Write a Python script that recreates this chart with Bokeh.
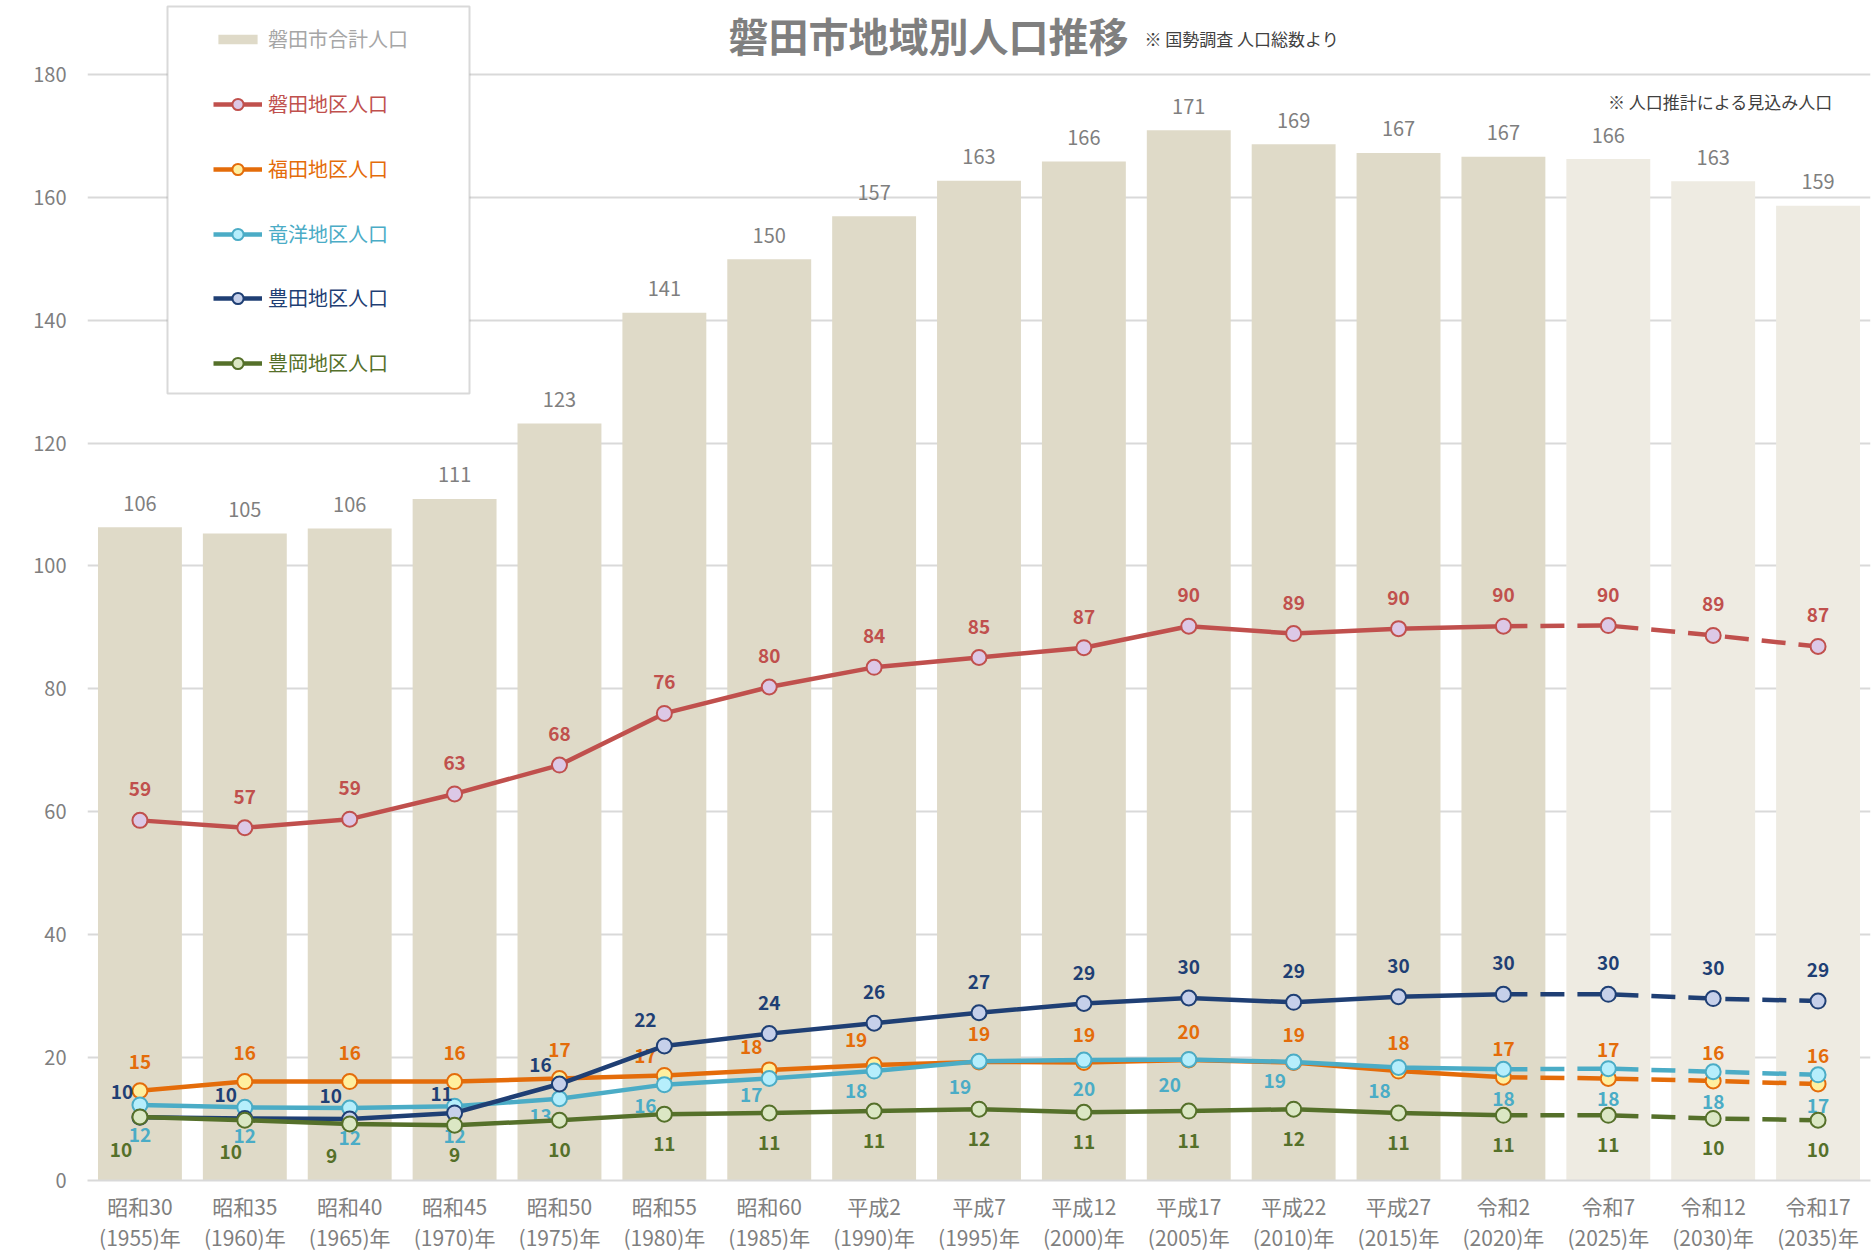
from bokeh.plotting import figure
from bokeh.models import (ColumnDataSource, FactorRange, Range1d, FixedTicker,
                          Legend, LegendItem, BoxAnnotation, Label)
from bokeh.core.properties import value
from bokeh.embed import file_html
from bokeh.resources import INLINE

# ---------------- data (thousand persons) ----------------
years = ["1955", "1960", "1965", "1970", "1975", "1980", "1985", "1990", "1995",
         "2000", "2005", "2010", "2015", "2020", "2025", "2030", "2035"]
era_labels = ["昭和30", "昭和35", "昭和40", "昭和45", "昭和50", "昭和55", "昭和60",
              "平成2", "平成7", "平成12", "平成17", "平成22", "平成27", "令和2",
              "令和7", "令和12", "令和17"]
categories = [f"{e}\n({y})年" for e, y in zip(era_labels, years)]
projected = [False] * 14 + [True] * 3

total = [106.3, 105.3, 106.1, 110.9, 123.2, 141.2, 149.9, 156.9, 162.7, 165.8,
         170.9, 168.6, 167.2, 166.6, 166.2, 162.6, 158.6]
iwata = [58.6, 57.4, 58.8, 62.9, 67.6, 76.0, 80.3, 83.5, 85.1, 86.7,
         90.2, 89.0, 89.8, 90.2, 90.3, 88.7, 86.9]
fukude = [14.6, 16.1, 16.1, 16.1, 16.6, 17.1, 18.0, 18.8, 19.3, 19.2,
          19.6, 19.2, 17.8, 16.8, 16.6, 16.2, 15.7]
ryuyo = [12.3, 11.9, 11.8, 12.1, 13.3, 15.6, 16.6, 17.8, 19.4, 19.6,
         19.7, 19.3, 18.4, 18.1, 18.2, 17.7, 17.2]
toyoda = [10.3, 10.1, 10.0, 11.0, 15.7, 21.9, 23.9, 25.6, 27.3, 28.8,
          29.7, 29.0, 29.9, 30.3, 30.3, 29.6, 29.2]
toyooka = [10.35, 9.8, 9.2, 9.0, 9.8, 10.8, 11.0, 11.3, 11.6, 11.1,
           11.3, 11.6, 11.0, 10.6, 10.6, 10.1, 9.8]

y_ticks = [0, 20, 40, 60, 80, 100, 120, 140, 160, 180]
LAST_ACTUAL = 13  # index of 2020, dashed afterwards

# ---------------- styles ----------------
FONT = "Noto Sans CJK JP"
GRAY = "#7f7f7f"
BAR_ACTUAL = "#dfdac8"
BAR_PROJ = "#eeebe2"

series = [
    # name, data, line color, marker fill, label dx list, label dy list
    ("磐田地区人口", iwata, "#c0504d", "#dcc8e6",
     [0] * 17, [-31] * 17),
    ("福田地区人口", fukude, "#e46c0a", "#ffef9f",
     [0, 0, 0, 0, 0, -19, -18, -18] + [0] * 9,
     [-29, -29, -29, -29, -28, -19, -23, -25] + [-28] * 9),
    ("竜洋地区人口", ryuyo, "#4bacc6", "#b6eefc",
     [0, 0, 0, 0, -19, -19, -18, -18, -19, 0, -19, -19, -19, 0, 0, 0, 0],
     [30, 29, 30, 30, 17, 21, 17, 20, 26, 29, 26, 19, 24, 30, 30, 30, 31]),
    ("豊田地区人口", toyoda, "#1f3f74", "#c6d0ea",
     [-18, -19, -19, -13, -19, -19] + [0] * 11,
     [-25, -23, -23, -19, -19, -26] + [-31] * 11),
    ("豊岡地区人口", toyooka, "#55702a", "#dbe7c4",
     [-19, -14, -18] + [0] * 14,
     [33, 32, 32] + [30] * 14),
]

# ---------------- geometry (page px) ----------------
FIG_W, FIG_H = 1872, 1255
PAGE_OFF = 0
FRAME_L, FRAME_R = 87, 1870
FRAME_T, FRAME_B = 0, 1183
Y180_PAGE = 74
PX_PER_UNIT = (FRAME_B - Y180_PAGE) / 180.0
Y_TOP = (FRAME_B - FRAME_T) / PX_PER_UNIT
CAT_W = (FRAME_R - FRAME_L) / len(years)


def px2x(px):
    return (px - FRAME_L) / CAT_W


def py2y(py):
    return (FRAME_B - py) / PX_PER_UNIT


p = figure(width=FIG_W, height=FIG_H, output_backend="svg", toolbar_location=None,
           x_range=FactorRange(factors=categories), y_range=Range1d(0, Y_TOP),
           min_border_left=FRAME_L - PAGE_OFF, min_border_right=FIG_W - (FRAME_R - PAGE_OFF),
           min_border_top=0, min_border_bottom=FIG_H - (FRAME_B - PAGE_OFF))
p.outline_line_color = None
p.background_fill_color = "white"

# axes
p.yaxis.ticker = FixedTicker(ticks=y_ticks)
p.yaxis.axis_line_color = None
p.yaxis.major_tick_line_color = None
p.yaxis.minor_tick_line_color = None
p.yaxis.major_label_text_color = GRAY
p.yaxis.major_label_text_font = FONT
p.yaxis.major_label_text_font_size = "20px"
p.yaxis.major_label_standoff = 15

p.xaxis.axis_line_color = "#d9d9d9"
p.xaxis.axis_line_width = 2
p.xaxis.major_tick_line_color = None
p.xaxis.minor_tick_line_color = None
p.xaxis.major_label_text_color = GRAY
p.xaxis.major_label_text_font = FONT
p.xaxis.major_label_text_font_size = "21px"
p.xaxis.major_label_text_line_height = 1.05
p.xaxis.major_label_standoff = 4

p.xgrid.grid_line_color = None
p.ygrid.ticker = FixedTicker(ticks=y_ticks)
p.ygrid.grid_line_color = "#d9d9d9"
p.ygrid.grid_line_width = 2

# bars
bar_src = ColumnDataSource(dict(
    cat=categories, total=total,
    color=[BAR_PROJ if pr else BAR_ACTUAL for pr in projected],
    label=[f"{v:.0f}" for v in total]))
bar_r = p.vbar(x="cat", top="total", width=0.8, fill_color="color",
               line_color=None, source=bar_src)
p.text(x="cat", y="total", text="label", source=bar_src, y_offset=-24,
       text_align="center", text_baseline="middle", text_color=GRAY,
       text_font=value(FONT), text_font_size="20px")

legend_entries = [("磐田市合計人口", "#a6a6a6", [bar_r], 0)]

for name, data, col, fill, dx, dy in series:
    src_solid = ColumnDataSource(dict(x=categories[:LAST_ACTUAL + 1], y=data[:LAST_ACTUAL + 1]))
    src_dash = ColumnDataSource(dict(x=categories[LAST_ACTUAL:], y=data[LAST_ACTUAL:]))
    src_pts = ColumnDataSource(dict(x=categories, y=data, label=[f"{v:.0f}" for v in data],
                                    dx=dx, dy=dy))
    lr = p.line("x", "y", source=src_solid, line_color=col, line_width=4.5,
                line_join="round")
    p.line("x", "y", source=src_dash, line_color=col, line_width=4.5,
           line_dash="24 13")
    cr = p.scatter("x", "y", source=src_pts, marker="circle", size=15,
                   fill_color=fill, line_color=col, line_width=2)
    p.text(x="x", y="y", text="label", source=src_pts, x_offset="dx", y_offset="dy",
           text_align="center", text_baseline="middle", text_color=col,
           text_font=value(FONT), text_font_size="19px", text_font_style="bold")
    legend_entries.append((name, col, [lr, cr], None))

# legend frame
box = BoxAnnotation(left=px2x(167), right=px2x(469), top=py2y(6), bottom=py2y(394),
                    fill_color="white", fill_alpha=1.0, line_color="#808080",
                    line_width=2)
p.add_layout(box)

leg_rows = [38, 103, 168, 233, 297, 362]
for (name, col, rends, idx), yc in zip(legend_entries, leg_rows):
    h = 28
    item = LegendItem(label=name, renderers=rends, index=idx)
    lg = Legend(items=[item], location=(213 - FRAME_L, FRAME_B - (yc + 4 + h / 2)),
                orientation="vertical", padding=0, margin=0, spacing=0,
                border_line_color=None, background_fill_alpha=0,
                glyph_width=49, glyph_height=12 if idx == 0 else h,
                label_height=h, label_standoff=6,
                label_text_font=FONT, label_text_font_size="20px",
                label_text_color=col)
    p.add_layout(lg, "center")

# titles and notes
p.add_layout(Label(x=px2x(728), y=py2y(35), text="磐田市地域別人口推移",
                   text_font=FONT, text_font_size="40px", text_font_style="bold",
                   text_color=GRAY, text_baseline="middle", text_align="left"))
p.add_layout(Label(x=px2x(1144), y=py2y(38), text="※ 国勢調査  人口総数より",
                   text_font=FONT, text_font_size="17px", text_color="#404040",
                   text_baseline="middle", text_align="left"))
p.add_layout(Label(x=px2x(1836), y=py2y(101), text="※  人口推計による見込み人口",
                   text_font=FONT, text_font_size="17px", text_color="#404040",
                   text_baseline="middle", text_align="right"))
p.add_layout(Label(x=px2x(14), y=py2y(40), text="(千人)",
                   text_font=FONT, text_font_size="21px", text_color="#404040",
                   text_baseline="middle", text_align="left"))

open("out.html", "w").write(file_html(p, INLINE))
